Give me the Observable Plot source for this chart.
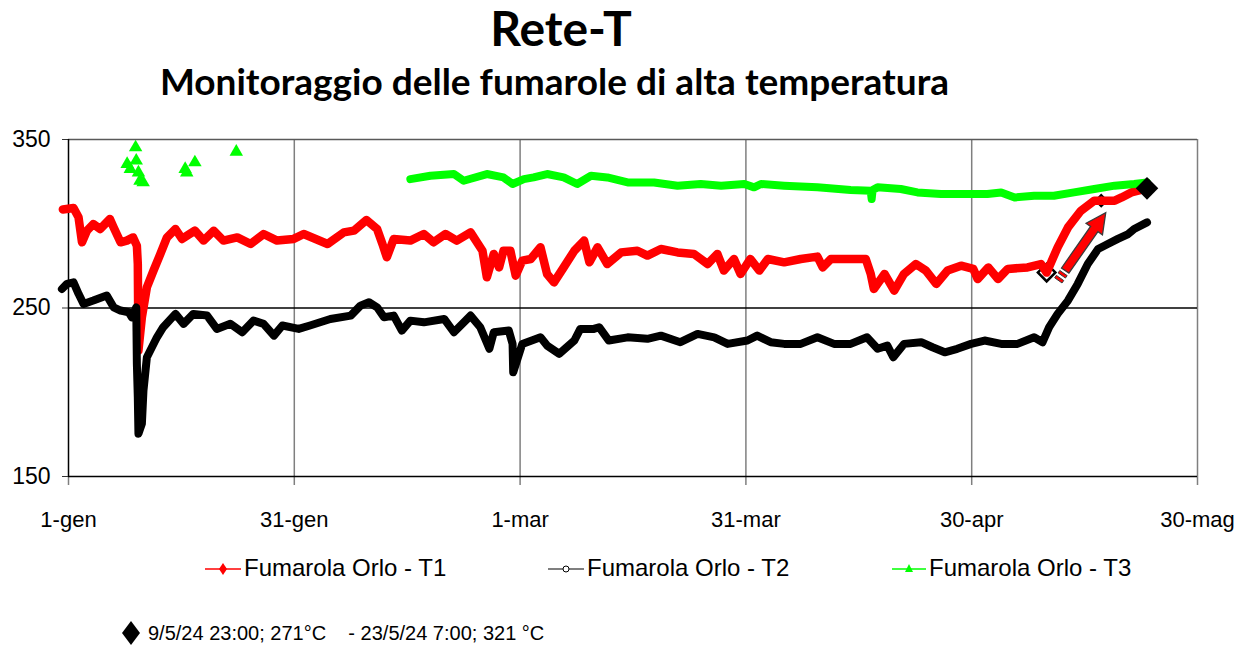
<!DOCTYPE html>
<html><head><meta charset="utf-8">
<script src="https://cdn.jsdelivr.net/npm/d3@7"></script>
<script src="https://cdn.jsdelivr.net/npm/@observablehq/plot@0.6"></script>
<style>
body{margin:0;background:#fff;}
#wrap{position:relative;width:1247px;height:646px;overflow:hidden;font-family:"Liberation Sans",Arial,sans-serif;color:#000;}
.abs{position:absolute;white-space:pre;}
.title{font-family:Lato,sans-serif;font-weight:700;}
</style></head><body><div id="wrap"></div>
<script>
// ---- Data ----
const titleText = "Rete-T";
const subtitleText = "Monitoraggio delle fumarole di alta temperatura";
const seriesNames = ["Fumarola Orlo - T1", "Fumarola Orlo - T2", "Fumarola Orlo - T3"];
const seriesColors = ["#ff0000", "#000000", "#00ff00"];
const xTickDates = ["2024-01-01 00:00","2024-01-31 00:00","2024-03-01 00:00","2024-03-31 00:00","2024-04-30 00:00","2024-05-30 00:00"];
const xTickLabels = ["1-gen","31-gen","1-mar","31-mar","30-apr","30-mag"];
const yTicks = [150, 250, 350];
const captionText = "9/5/24 23:00; 271°C    - 23/5/24 7:00; 321 °C";

const t1 = [
["2023-12-31 06:00",308.5],["2024-01-01 16:00",309.3],["2024-01-02 08:00",303.8],["2024-01-02 19:00",289],
["2024-01-03 11:00",295.9],["2024-01-04 07:00",299.8],["2024-01-05 05:00",296.9],["2024-01-06 12:00",302.8],
["2024-01-07 00:00",297.8],["2024-01-07 22:00",289],["2024-01-08 18:00",290],["2024-01-09 14:00",291.9],
["2024-01-10 02:00",287],["2024-01-10 05:00",276.1],["2024-01-10 07:00",224.7],["2024-01-10 18:00",244.5],
["2024-01-11 10:00",262.3],["2024-01-12 07:00",272.2],["2024-01-13 05:00",282.1],["2024-01-14 02:00",291.9],
["2024-01-15 05:00",296.9],["2024-01-16 02:00",291],["2024-01-17 19:00",295.9],["2024-01-18 23:00",290],
["2024-01-20 07:00",295.9],["2024-01-21 14:00",290],["2024-01-23 10:00",291.9],["2024-01-25 05:00",288],
["2024-01-26 22:00",293.9],["2024-01-28 17:00",290],["2024-01-30 22:00",291],["2024-02-01 06:00",293.9],
["2024-02-04 10:00",288],["2024-02-06 14:00",294.9],["2024-02-07 22:00",295.9],["2024-02-09 14:00",302.2],
["2024-02-11 00:00",296.9],["2024-02-11 17:00",288],["2024-02-12 07:00",280.1],["2024-02-13 05:00",291],
["2024-02-15 10:00",290],["2024-02-17 05:00",293.9],["2024-02-18 12:00",289],["2024-02-20 02:00",293.9],
["2024-02-21 14:00",290],["2024-02-23 10:00",294.9],["2024-02-25 00:00",284],["2024-02-25 14:00",268.2],
["2024-02-26 12:00",282.1],["2024-02-27 05:00",274.1],["2024-02-27 19:00",284],["2024-02-28 17:00",284],
["2024-02-29 10:00",269.2],["2024-03-01 07:00",278.1],["2024-03-02 10:00",279.1],["2024-03-03 17:00",286],
["2024-03-04 14:00",270.2],["2024-03-05 12:00",265.2],["2024-03-06 19:00",274.1],["2024-03-08 05:00",284],
["2024-03-09 12:00",290],["2024-03-10 05:00",277.1],["2024-03-11 07:00",286],["2024-03-12 14:00",276.1],
["2024-03-14 10:00",283],["2024-03-16 14:00",284],["2024-03-17 22:00",281.1],["2024-03-19 17:00",285],
["2024-03-21 22:00",283],["2024-03-24 02:00",282.1],["2024-03-25 22:00",276.1],["2024-03-27 05:00",282.1],
["2024-03-28 02:00",272.2],["2024-03-29 10:00",279.1],["2024-03-30 07:00",270.2],["2024-03-31 14:00",279.1],
["2024-04-01 19:00",272.2],["2024-04-02 22:00",279.1],["2024-04-05 02:00",277.1],["2024-04-07 07:00",279.1],
["2024-04-09 12:00",280.5],["2024-04-10 05:00",274.1],["2024-04-11 07:00",279.1],["2024-04-13 22:00",279.1],
["2024-04-15 22:00",279.1],["2024-04-16 14:00",270.2],["2024-04-17 00:00",261.3],["2024-04-18 10:00",270.2],
["2024-04-19 17:00",260.3],["2024-04-21 00:00",270.2],["2024-04-22 14:00",276.1],["2024-04-23 22:00",272.2],
["2024-04-25 07:00",264.3],["2024-04-26 19:00",272.2],["2024-04-28 14:00",275.1],["2024-04-30 05:00",273.2],
["2024-04-30 19:00",267.2],["2024-05-02 05:00",274.1],["2024-05-03 12:00",267.2],["2024-05-04 19:00",273.2],
["2024-05-07 10:00",274.1],["2024-05-09 05:00",276.1],["2024-05-09 23:00",271],["2024-05-11 10:00",286],
["2024-05-12 19:00",297.8],["2024-05-14 12:00",307.7],["2024-05-16 07:00",313.7],["2024-05-17 05:00",313.7],
["2024-05-19 00:00",313.7],["2024-05-19 22:00",315.6],["2024-05-21 05:00",318.6],["2024-05-23 07:00",321]
];

const t2 = [
["2023-12-31 03:00",261.3],["2023-12-31 19:00",264.3],["2024-01-01 16:00",265.2],["2024-01-02 08:00",258.4],
["2024-01-03 00:00",252.4],["2024-01-04 07:00",254.4],["2024-01-06 02:00",257.4],["2024-01-07 00:00",250.4],
["2024-01-07 22:00",248.5],["2024-01-09 00:00",247.5],["2024-01-09 10:00",244.5],["2024-01-10 00:00",250.4],
["2024-01-10 02:00",216.9],["2024-01-10 05:00",197.1],["2024-01-10 07:00",175.4],["2024-01-10 18:00",181.3],
["2024-01-10 23:00",201.0],["2024-01-11 10:00",220.8],["2024-01-12 02:00",226.7],["2024-01-12 18:00",232.6],
["2024-01-13 14:00",238.6],["2024-01-15 05:00",246.5],["2024-01-16 07:00",240.6],["2024-01-17 14:00",246.5],
["2024-01-19 10:00",245.5],["2024-01-20 17:00",237.6],["2024-01-22 12:00",240.6],["2024-01-24 02:00",235.6],
["2024-01-25 14:00",242.5],["2024-01-26 22:00",240.6],["2024-01-28 07:00",233.6],["2024-01-29 10:00",239.6],
["2024-01-31 14:00",237.6],["2024-02-02 02:00",239.6],["2024-02-04 19:00",243.5],["2024-02-07 12:00",245.5],
["2024-02-08 19:00",251.4],["2024-02-09 22:00",253.4],["2024-02-11 00:00",250.4],["2024-02-11 22:00",244.5],
["2024-02-13 05:00",245.5],["2024-02-14 07:00",236.6],["2024-02-15 10:00",242.5],["2024-02-17 05:00",241.5],
["2024-02-19 22:00",243.5],["2024-02-21 05:00",235.6],["2024-02-23 10:00",245.5],["2024-02-24 17:00",238.6],
["2024-02-25 22:00",225.8],["2024-02-26 12:00",235.6],["2024-02-28 12:00",236.6],["2024-02-29 00:00",228.7],
["2024-02-29 02:00",211.9],["2024-03-01 07:00",228.7],["2024-03-03 17:00",232.6],["2024-03-04 14:00",227.7],
["2024-03-06 05:00",222.8],["2024-03-08 05:00",230.7],["2024-03-09 00:00",237.6],["2024-03-10 19:00",237.6],
["2024-03-11 12:00",238.6],["2024-03-12 19:00",230.7],["2024-03-15 07:00",232.6],["2024-03-17 22:00",231.7],
["2024-03-19 17:00",233.6],["2024-03-22 07:00",229.7],["2024-03-24 14:00",234.6],["2024-03-26 19:00",232.6],
["2024-03-28 14:00",228.7],["2024-03-31 05:00",230.7],["2024-04-01 12:00",233.6],["2024-04-03 07:00",229.7],
["2024-04-05 02:00",228.7],["2024-04-07 07:00",228.7],["2024-04-09 12:00",232.6],["2024-04-11 17:00",228.7],
["2024-04-13 22:00",228.7],["2024-04-16 02:00",232.6],["2024-04-17 12:00",225.8],["2024-04-18 19:00",227.7],
["2024-04-19 14:00",220.8],["2024-04-21 00:00",228.7],["2024-04-23 07:00",229.7],["2024-04-24 19:00",226.7],
["2024-04-26 10:00",223.7],["2024-04-28 02:00",225.8],["2024-04-29 22:00",228.7],["2024-05-01 17:00",230.7],
["2024-05-03 22:00",228.7],["2024-05-06 02:00",228.7],["2024-05-08 07:00",232.6],["2024-05-09 10:00",229.7],
["2024-05-10 07:00",238.6],["2024-05-11 10:00",246.5],["2024-05-12 19:00",254.4],["2024-05-14 02:00",264.3],
["2024-05-15 10:00",276.1],["2024-05-16 19:00",285],["2024-05-18 02:00",288],["2024-05-19 10:00",291],
["2024-05-20 19:00",293.9],["2024-05-21 14:00",296.9],["2024-05-23 07:00",300.8]
];

// T3: isolated early readings, then the continuous record
const t3Early = [
["2024-01-08 19:00",335.4],["2024-01-09 05:00",332.5],["2024-01-09 22:00",345.3],["2024-01-10 00:00",337.4],
["2024-01-10 07:00",330.4],["2024-01-10 12:00",325.5],["2024-01-10 22:00",324.5],["2024-01-16 12:00",332.5],
["2024-01-16 17:00",330.4],["2024-01-17 19:00",336.4],["2024-01-23 07:00",342.7]
];
const t3 = [
["2024-02-15 10:00",326.5],["2024-02-18 02:00",328.5],["2024-02-21 05:00",329.5],["2024-02-22 12:00",325.5],
["2024-02-25 14:00",329.5],["2024-02-27 19:00",327.5],["2024-02-29 00:00",323.6],["2024-03-01 12:00",326.5],
["2024-03-02 19:00",327.5],["2024-03-04 14:00",329.5],["2024-03-06 19:00",327.5],["2024-03-08 14:00",323.6],
["2024-03-10 10:00",328.5],["2024-03-12 14:00",327.5],["2024-03-15 07:00",324.5],["2024-03-18 19:00",324.5],
["2024-03-21 22:00",322.6],["2024-03-25 00:00",323.6],["2024-03-27 17:00",322.6],["2024-03-30 19:00",323.6],
["2024-04-01 02:00",321.6],["2024-04-02 00:00",323.6],["2024-04-05 02:00",322.6],["2024-04-09 12:00",321.6],
["2024-04-13 22:00",320.0],["2024-04-16 14:00",319.6],["2024-04-16 17:00",314.7],["2024-04-16 20:00",320.0],
["2024-04-17 12:00",321.6],["2024-04-20 14:00",320.6],["2024-04-22 19:00",318.6],["2024-04-25 22:00",317.6],
["2024-04-29 12:00",317.6],["2024-05-02 02:00",317.6],["2024-05-03 22:00",318.6],["2024-05-05 17:00",315.6],
["2024-05-08 07:00",316.6],["2024-05-10 22:00",316.6],["2024-05-13 14:00",318.6],["2024-05-16 07:00",320.6],
["2024-05-19 00:00",322.6],["2024-05-21 14:00",323.6],["2024-05-23 07:00",324.5]
];

// Annotations (data space)
const startMark = ["2024-05-09 23:00", 271];
const midMark = ["2024-05-17 05:00", 313.7];
const endMark = ["2024-05-23 07:00", 321];
const arrowTail = ["2024-05-11 12:00", 265.6];
const arrowTip = ["2024-05-17 21:00", 306.3];

// ---- Build ----
const parse = d3.utcParse("%Y-%m-%d %H:%M");
const rows = a => a.map(([d, v]) => ({date: parse(d), value: v}));
const T1 = rows(t1), T2 = rows(t2), T3 = rows(t3), T3e = rows(t3Early);
const xTicks = xTickDates.map(parse);
const labelOf = new Map(xTicks.map((d, i) => [+d, xTickLabels[i]]));

const wrap = document.getElementById("wrap");
function addDiv(html, style, cls) {
  const d = document.createElement("div");
  d.className = "abs " + (cls || "");
  d.setAttribute("style", style);
  d.innerHTML = html;
  wrap.appendChild(d);
  return d;
}
addDiv(titleText, "left:0;width:1122px;text-align:center;top:4px;font-size:48px;line-height:48px;", "title");
addDiv(subtitleText, "left:0;width:1109px;text-align:center;top:62px;font-size:37px;line-height:37px;", "title");

function blockArrow(index, scales) {
  const x0 = scales.x(parse(arrowTail[0])), y0 = scales.y(arrowTail[1]);
  const x1 = scales.x(parse(arrowTip[0])), y1 = scales.y(arrowTip[1]);
  const len = Math.hypot(x1 - x0, y1 - y0);
  const ux = (x1 - x0) / len, uy = (y1 - y0) / len, nx = -uy, ny = ux;
  const P = (t, s) => [x0 + ux * t + nx * s, y0 + uy * t + ny * s];
  const w = 4.5, h = 10, L = 20, s0 = 13;
  const pts = [P(s0, w), P(len - L, w), P(len - L, h), P(len, 0), P(len - L, -h), P(len - L, -w), P(s0, -w)];
  const g = d3.create("svg:g");
  g.append("polygon").attr("points", pts.map(p => p.join(",")).join(" "))
    .attr("fill", "#ff0000").attr("stroke", "#3a3a3a").attr("stroke-width", 1.3).attr("stroke-linejoin", "miter");
  for (const [a, b] of [[1, 4], [7, 10]]) {
    const q = [P(a, w), P(b, w), P(b, -w), P(a, -w)];
    g.append("polygon").attr("points", q.map(p => p.join(",")).join(" "))
      .attr("fill", "#ff0000").attr("stroke", "#3a3a3a").attr("stroke-width", 1);
  }
  return g.node();
}

const lineOpts = {x: "date", y: "value", strokeWidth: 8.5, strokeLinejoin: "round", strokeLinecap: "round", curve: "linear"};
const plot = Plot.plot({
  width: 1247, height: 420,
  marginTop: 19, marginBottom: 64, marginLeft: 68, marginRight: 50,
  style: {background: "transparent", fontFamily: "'Liberation Sans', Arial, sans-serif", fontSize: "22px", color: "#000", overflow: "visible"},
  x: {type: "utc", domain: [xTicks[0], xTicks[xTicks.length - 1]]},
  y: {domain: [150, 350]},
  marks: [
    Plot.ruleX(xTicks.slice(1), {stroke: "#7f7f7f", strokeWidth: 1.5}),
    Plot.ruleY([350], {stroke: "#595959", strokeWidth: 1.5}),
    Plot.ruleY([250], {stroke: "#000", strokeWidth: 1.3}),
    Plot.axisX({ticks: xTicks, tickFormat: d => labelOf.get(+d), tickSize: 9, tickPadding: 26, stroke: "#7f7f7f", strokeWidth: 1.5, fontSize: 22, label: null}),
    Plot.axisY({ticks: yTicks, tickSize: 6, tickPadding: 12, fontSize: 23, label: null, stroke: "#333"}),
    Plot.ruleY([150], {stroke: "#000", strokeWidth: 1.3}),
    Plot.ruleX([xTicks[0]], {stroke: "#000", strokeWidth: 1.5, y1: 150, y2: 350}),
    Plot.dot([startMark], {x: d => parse(d[0]), y: d => d[1], symbol: "square", rotate: 45, r: 7, stroke: "#000", strokeWidth: 2.5, fill: "none"}),
    Plot.dot([midMark], {x: d => parse(d[0]), y: d => d[1], symbol: "square", rotate: 45, r: 4.5, stroke: "#000", strokeWidth: 2, fill: "none"}),
    Plot.line(T1, {...lineOpts, stroke: seriesColors[0]}),
    Plot.line(T2, {...lineOpts, strokeWidth: 8, stroke: seriesColors[1]}),
    Plot.dot(T3e, {x: "date", y: "value", symbol: "triangle", r: 5, fill: seriesColors[2]}),
    Plot.line(T3, {...lineOpts, strokeWidth: 8, stroke: seriesColors[2]}),
    Plot.dot([endMark], {x: d => parse(d[0]), y: d => d[1], symbol: "square", rotate: 45, r: 9, fill: "#000"}),
    blockArrow
  ]
});
plot.style.position = "absolute";
plot.style.left = "0px";
plot.style.top = "120px";
wrap.appendChild(plot);

// ---- Legend ----
const swatches = [
  `<svg width="36" height="14"><line x1="0" y1="7" x2="36" y2="7" stroke="#ff0000" stroke-width="1.5"/><path d="M18,1 L22,7 L18,13 L14,7 Z" fill="#ff0000"/></svg>`,
  `<svg width="36" height="14"><line x1="0" y1="7" x2="36" y2="7" stroke="#000" stroke-width="1.2"/><circle cx="18" cy="7" r="3" fill="#fff" stroke="#000" stroke-width="1"/></svg>`,
  `<svg width="34" height="14"><line x1="0" y1="7" x2="34" y2="7" stroke="#00ff00" stroke-width="1.5"/><path d="M17,2 L21,10 L13,10 Z" fill="#00ff00"/></svg>`
];
const legendX = [205, 548, 892];
seriesNames.forEach((name, i) => {
  addDiv(`<span style="display:inline-block;vertical-align:middle;margin-right:3px">${swatches[i]}</span><span style="vertical-align:middle">${name}</span>`,
    `left:${legendX[i]}px;top:551px;font-size:24px;line-height:30px;`);
});

// ---- Caption ----
addDiv(`<svg width="22" height="26" style="vertical-align:middle;margin-right:6px"><path d="M11,1 L20,13 L11,25 L2,13 Z" fill="#000"/></svg><span style="vertical-align:middle">${captionText}</span>`,
  "left:120px;top:617px;font-size:20px;line-height:28px;");
</script></body></html>
